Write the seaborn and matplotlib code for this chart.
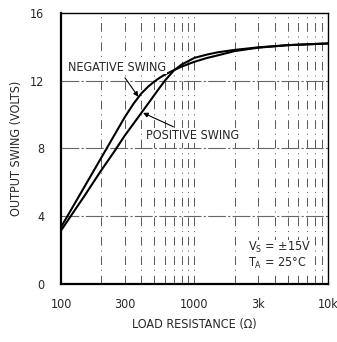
import matplotlib
matplotlib.use("Agg")
import matplotlib.pyplot as plt
import matplotlib.ticker as mticker
import numpy as np
import pandas as pd
import seaborn as sns

# Load resistance (ohms) and measured output swing (volts)
load_ohms = [100, 150, 200, 250, 300, 350, 400, 450, 500, 550, 600, 700, 800,
             1000, 1250, 1500, 2000, 3000, 5000, 10000]
negative_swing = [3.35, 5.74, 7.44, 8.76, 9.84, 10.65, 11.25, 11.65, 11.95, 12.18, 12.36,
                  12.62, 12.83, 13.12, 13.35, 13.5, 13.75, 13.95, 14.1, 14.2]
positive_swing = [3.15, 5.2, 6.7, 7.8, 8.75, 9.47, 10.1, 10.65, 11.15, 11.6, 12.0,
                  12.6, 12.95, 13.35, 13.55, 13.68, 13.82, 13.97, 14.1, 14.2]

x_ticks = [100, 300, 1000, 3000, 10000]
x_tick_labels = ["100", "300", "1000", "3k", "10k"]
y_ticks = [0, 4, 8, 12, 16]

df = pd.DataFrame({
    "R": load_ohms * 2,
    "V": negative_swing + positive_swing,
    "series": ["NEGATIVE SWING"] * len(load_ohms) + ["POSITIVE SWING"] * len(load_ohms),
})

sns.set_style("white")
plt.rcParams["font.family"] = ["DejaVu Sans"]
plt.rcParams["font.stretch"] = "condensed"
plt.rcParams["mathtext.default"] = "regular"
FS = 9

fig = plt.figure(figsize=(3.37, 3.42), dpi=100)
ax = fig.add_axes([0.181, 0.170, 0.792, 0.792])

# log grid: broken vertical lines at every minor decade step
grid_x = [200, 300, 400, 500, 600, 700, 800, 900, 1000, 2000, 3000, 4000, 5000, 6000, 7000, 8000, 9000]
for gx in grid_x:
    ax.axvline(gx, color="#555555", lw=0.7, ls=(0, (9, 5, 1, 5)), zorder=1)
for gy in [4, 8, 12]:
    ax.axhline(gy, color="#666666", lw=0.8, ls=(0, (16, 2, 2, 2)), zorder=1)

sns.lineplot(data=df, x="R", y="V", hue="series", palette=["black", "black"],
             linewidth=1.5, legend=False, ax=ax, zorder=3)

ax.set_xscale("log")
ax.set_xlim(100, 10000)
ax.set_ylim(0, 16)
ax.xaxis.set_minor_locator(mticker.NullLocator())
ax.set_xticks(x_ticks)
ax.set_xticklabels(x_tick_labels)
ax.set_yticks(y_ticks)
ax.tick_params(axis="both", length=0, labelsize=FS)
ax.tick_params(axis="x", pad=10)
ax.tick_params(axis="y", pad=12)

for side in ["left", "bottom"]:
    ax.spines[side].set_linewidth(1.6)
for side in ["top", "right"]:
    ax.spines[side].set_linewidth(1.0)
for s in ax.spines.values():
    s.set_color("black")

ax.set_xlabel("LOAD RESISTANCE (Ω)", fontsize=FS, labelpad=5)
ax.set_ylabel("OUTPUT SWING (VOLTS)", fontsize=FS, labelpad=5)

box = dict(facecolor="white", edgecolor="none", pad=0.5)
ax.annotate("NEGATIVE SWING", xy=(380, 11.05), xytext=(265, 12.8),
            ha="center", va="center", fontsize=FS, bbox=box,
            arrowprops=dict(arrowstyle="-|>", color="black", lw=0.8,
                            mutation_scale=7, shrinkA=3, shrinkB=0))
ax.annotate("POSITIVE SWING", xy=(412, 10.1), xytext=(975, 8.75),
            ha="center", va="center", fontsize=FS, bbox=box,
            arrowprops=dict(arrowstyle="-|>", color="black", lw=0.8,
                            mutation_scale=7, shrinkA=3, shrinkB=0))

ax.text(2500, 1.68, "$V_S$ = ±15V\n$T_A$ = 25°C", fontsize=FS, ha="left",
        va="center", linespacing=1.0, bbox=box)

fig.savefig("out.png", dpi=100)
